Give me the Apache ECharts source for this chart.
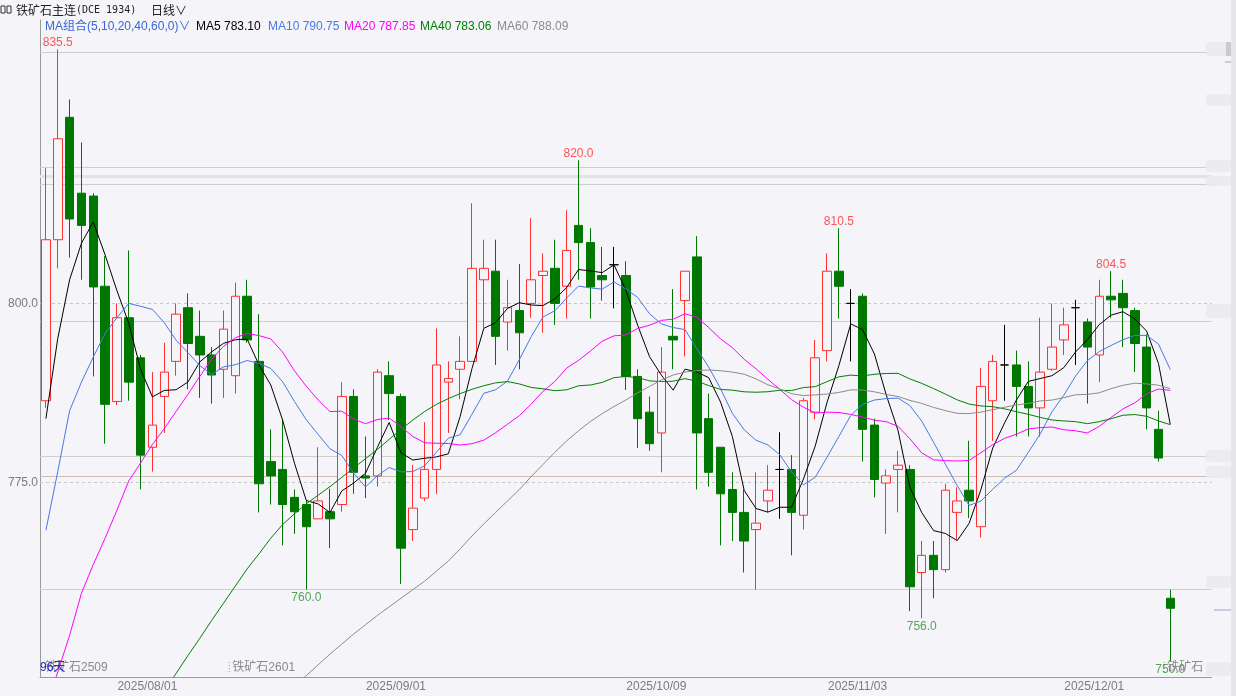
<!DOCTYPE html>
<html><head><meta charset="utf-8">
<script src="https://cdn.jsdelivr.net/npm/echarts@6/dist/echarts.min.js"></script>
<style>html,body{margin:0;padding:0;background:#f4f4f9;}#c{width:1236px;height:696px;}</style>
</head><body><div id="c"></div>
<script>
// ---------------- DATA ----------------
const dates = [
'2025/07/21','2025/07/22','2025/07/23','2025/07/24','2025/07/25','2025/07/28','2025/07/29','2025/07/30','2025/07/31',
'2025/08/01','2025/08/04','2025/08/05','2025/08/06','2025/08/07','2025/08/08','2025/08/11','2025/08/12','2025/08/13','2025/08/14','2025/08/15',
'2025/08/18','2025/08/19','2025/08/20','2025/08/21','2025/08/22','2025/08/25','2025/08/26','2025/08/27','2025/08/28','2025/08/29',
'2025/09/01','2025/09/02','2025/09/03','2025/09/04','2025/09/05','2025/09/08','2025/09/09','2025/09/10','2025/09/11','2025/09/12',
'2025/09/15','2025/09/16','2025/09/17','2025/09/18','2025/09/19','2025/09/22','2025/09/23','2025/09/24','2025/09/25','2025/09/26',
'2025/09/29','2025/09/30',
'2025/10/09','2025/10/10','2025/10/13','2025/10/14','2025/10/15','2025/10/16','2025/10/17','2025/10/20','2025/10/21','2025/10/22',
'2025/10/23','2025/10/24','2025/10/27','2025/10/28','2025/10/29','2025/10/30','2025/10/31',
'2025/11/03','2025/11/04','2025/11/05','2025/11/06','2025/11/07','2025/11/10','2025/11/11','2025/11/12','2025/11/13','2025/11/14',
'2025/11/17','2025/11/18','2025/11/19','2025/11/20','2025/11/21','2025/11/24','2025/11/25','2025/11/26','2025/11/27','2025/11/28',
'2025/12/01','2025/12/02','2025/12/03','2025/12/04','2025/12/05','2025/12/08','2025/12/09'];

const opens = [786.4,808.9,826.0,815.4,815.0,802.4,786.3,798.0,792.4,779.9,
787.0,791.9,799.4,795.4,792.8,790.8,789.9,801.0,791.9,777.9,
776.8,772.9,771.9,769.9,770.9,771.9,787.0,775.9,775.9,789.9,
787.0,768.4,772.8,776.8,789.0,790.8,791.9,803.3,804.5,797.4,
799.0,800.0,803.9,804.9,802.4,810.9,808.5,803.9,805.4,803.9,
789.8,784.8,781.9,795.4,800.4,806.5,783.9,779.9,774.0,770.8,
768.4,772.4,776.8,776.8,770.4,784.8,793.4,804.5,800.0,801.0,
783.0,774.9,776.8,776.8,762.4,764.8,762.8,770.8,773.9,768.8,
786.4,791.4,791.4,788.4,785.4,790.8,794.9,799.4,797.4,792.8,
801.0,801.4,799.0,793.9,782.4,758.8];
const closes = [808.9,823.0,811.8,810.9,802.3,785.9,798.0,789.0,778.8,783.0,
790.4,798.5,794.4,792.8,790.0,796.4,801.0,794.9,774.8,775.9,
771.9,770.9,768.8,772.4,769.9,787.0,776.4,775.6,790.4,787.4,
765.8,771.4,776.8,791.4,789.5,791.9,804.9,804.9,795.4,799.4,
795.9,803.3,804.5,800.0,807.4,808.5,802.3,803.3,805.4,789.8,
783.9,780.4,790.4,794.9,804.5,781.9,776.4,773.4,770.8,766.8,
769.3,773.9,776.8,770.8,786.4,792.4,804.5,802.4,800.0,782.4,
775.4,775.9,777.4,760.4,764.8,762.8,773.9,772.4,772.4,788.4,
791.9,791.4,788.4,785.4,790.4,793.9,797.0,799.4,793.9,801.0,
800.5,799.4,794.4,785.4,778.4,757.4];
const lows = [785.4,804.9,806.4,803.3,789.8,780.4,785.8,786.4,774.0,776.5,
781.9,789.9,788.0,786.8,786.0,786.8,787.4,794.5,770.8,771.9,
766.2,767.8,760.0,769.9,765.8,770.9,773.4,772.8,774.4,783.7,
760.8,766.8,772.4,773.4,781.9,786.6,791.9,796.6,791.4,793.4,
790.8,798.0,795.9,797.0,797.9,803.3,797.9,800.4,799.3,787.9,
779.8,779.4,776.4,790.8,792.6,774.0,774.4,766.2,766.8,762.4,
760.0,770.8,769.9,764.8,768.4,783.8,791.9,797.9,791.9,777.9,
772.9,767.8,770.8,757.0,756.0,758.8,762.4,767.0,770.0,767.3,
780.8,786.4,781.4,781.4,781.4,790.6,792.8,791.4,786.0,789.0,
798.0,793.9,790.4,782.4,777.9,750.0];
const highs = [818.9,835.5,828.5,822.5,815.4,806.6,800.0,807.4,792.8,790.4,
794.5,800.0,801.4,799.0,793.9,799.0,802.9,803.3,798.5,782.4,
783.7,774.0,772.5,779.9,774.1,789.0,788.0,781.4,790.8,791.9,
787.4,777.4,783.4,796.5,791.9,795.4,814.0,808.9,808.9,803.3,
805.5,811.9,807.0,808.9,813.0,820.0,810.5,807.9,807.9,805.9,
790.8,787.0,793.9,802.0,804.5,809.4,787.4,779.9,776.4,774.0,
776.4,777.4,782.0,778.8,786.8,794.9,807.0,810.5,802.0,801.4,
783.9,776.8,779.4,777.4,766.8,766.8,774.8,774.3,780.8,791.0,
792.8,797.0,793.4,791.9,798.0,800.0,799.4,800.5,797.9,803.3,
804.5,803.3,799.4,795.7,785.0,760.0];

const ma5 = [783.9,795.1,803.3,808.4,811.38,806.78,801.78,797.22,790.80,786.94,
787.84,787.94,789.02,791.82,793.22,794.42,794.92,795.02,791.42,788.60,
783.70,777.68,772.46,771.98,770.78,773.80,774.90,776.26,779.86,783.36,
779.12,778.12,778.36,778.56,778.98,784.20,790.90,796.52,797.32,799.30,
800.10,799.78,799.70,800.62,802.22,804.74,804.54,804.30,805.38,801.86,
796.94,792.56,789.98,787.88,790.82,790.42,789.62,786.22,781.40,773.86,
771.34,770.84,771.52,771.52,775.44,780.06,786.18,791.30,797.14,796.34,
792.94,787.22,782.22,774.30,770.78,768.26,767.86,766.86,769.26,773.98,
779.80,783.30,786.50,789.10,789.50,789.90,791.02,793.22,794.92,797.04,
798.36,798.84,797.84,796.14,791.62,783.10];
const ma10 = [768.3,776.5,785.0,789.0,792.5,795.8,798.0,800.0,799.6,799.16,
797.31,794.86,793.12,791.31,790.08,791.13,791.43,792.02,791.62,790.91,
789.06,786.30,783.74,781.70,779.69,778.75,776.29,774.36,775.92,777.07,
776.46,776.51,777.31,779.21,781.17,781.66,784.51,787.44,787.94,789.14,
792.15,795.34,798.11,798.97,800.76,802.42,802.16,802.00,803.00,802.04,
800.84,798.55,797.14,796.63,796.34,793.68,791.09,788.10,784.64,782.34,
780.88,780.23,778.87,776.46,774.65,775.70,778.51,781.41,784.33,785.89,
786.50,786.70,786.76,785.72,783.56,780.60,777.54,774.54,771.78,772.38,
774.03,775.58,776.68,779.18,781.74,784.85,787.16,789.86,792.01,793.27,
794.13,794.93,795.53,795.53,794.33,790.75];
const ma20 = [743.5,748.5,753.6,759.5,763.5,767.2,771.1,775.2,777.7,780.3,
782.5,784.9,787.3,789.8,792.2,794.0,795.2,795.8,795.5,795.04,
793.19,790.58,788.43,786.51,784.89,784.94,783.86,783.19,783.77,783.99,
782.76,781.41,780.53,780.46,780.43,780.21,780.40,780.90,781.93,783.11,
784.31,785.93,787.71,789.09,790.97,792.04,793.34,794.72,795.47,795.59,
796.50,796.95,797.63,797.80,798.55,798.05,796.63,795.05,793.82,792.19,
790.86,789.39,788.01,786.55,785.50,784.69,784.80,784.76,784.49,784.12,
783.69,783.47,782.82,781.09,779.11,778.15,778.03,777.98,778.06,779.14,
780.27,781.14,781.72,782.45,782.65,782.73,782.35,782.20,781.90,782.83,
784.08,785.26,786.11,787.36,788.04,787.85];
const ma40 = [null,null,null,null,null,null,null,null,null,null,
745.8,748.3,750.8,753.2,755.7,758.1,760.5,762.9,765.0,767.2,
769.1,770.6,772.0,773.2,774.4,775.7,777.0,778.3,779.6,781.0,
782.4,783.7,784.9,785.9,786.7,787.4,788.0,788.5,788.9,789.08,
788.75,788.26,788.07,787.80,787.93,788.49,788.60,788.96,789.62,789.79,
789.63,789.18,789.08,789.13,789.49,789.13,788.52,787.98,787.88,787.65,
787.59,787.66,787.86,787.82,788.24,788.37,789.07,789.74,789.98,789.86,
790.10,790.21,790.23,789.45,788.83,788.10,787.33,786.52,785.94,785.67,
785.57,785.27,784.87,784.50,784.08,783.71,783.58,783.48,783.20,783.48,
783.89,784.37,784.47,784.23,783.58,783.06];
const ma60 = [null,null,null,null,null,null,null,null,null,null,
null,null,null,null,null,null,null,null,null,null,
null,746.6,748.0,749.5,751.0,752.4,753.8,755.1,756.4,757.6,
758.8,760.0,761.2,762.6,764.0,765.7,767.5,769.2,770.8,772.4,
774.0,775.8,777.5,779.2,780.8,782.2,783.5,784.6,785.6,786.5,
787.5,788.4,789.3,790.0,790.4,790.6,790.7,790.6,790.4,790.11,
789.45,788.63,788.05,787.38,787.12,787.22,787.33,787.56,787.91,787.90,
787.65,787.28,786.99,786.45,786.03,785.47,785.02,784.64,784.60,784.81,
785.15,785.49,785.81,786.03,786.37,786.49,786.83,787.23,787.29,787.51,
788.09,788.56,788.85,788.75,788.57,788.09];

const maNames = ['MA5','MA10','MA20','MA40','MA60'];
const xLabelDates = ['2025/08/01','2025/09/01','2025/10/09','2025/11/03','2025/12/01'];
const yLabelValues = [775, 800];
const hiLabelIdx = [1, 45, 67, 90];
const loLabelIdx = [22, 74, 95];
const solidLevels = [835.1, 819.0, 817.7, 816.6, 797.5, 778.6, 775.9, 760.1];
const dashedLevels = [800, 775];
const contractIdx = [0, 16, 95];
const contractNames = ['铁矿石2509', '铁矿石2601', '铁矿石'];
const dayCountText = '96天';
const titleText = ['铁矿石主连', '(DCE 1934)', '日线'];
const maGroupText = 'MA组合(5,10,20,40,60,0)';

// ---------------- STYLE ----------------
const BG = '#f4f4f9';
const UP = '#ff3030', DOWN = '#007700';
const maColors = ['#000000', '#4a78e6', '#ff00ff', '#008000', '#8c8c8c'];
const FONT = '"Liberation Sans","Noto Sans CJK SC",sans-serif';

const chart = echarts.init(document.getElementById('c'), null, {renderer: 'canvas'});
const catData = dates.concat(['', '', '']);
const candleData = dates.map((d, i) => [opens[i], closes[i], lows[i], highs[i]]);
const maData = [ma5, ma10, ma20, ma40, ma60];

const lineStyles = solidLevels.map(v => {
  let ls = {color: '#cfcfc9', width: 1, type: 'solid'};
  if (Math.abs(v - 817.7) < 0.01) ls = {color: '#e3e3e3', width: 3, type: 'solid'};
  if (Math.abs(v - 775.9) < 0.01) ls = {color: '#cdbdb5', width: 1, type: 'solid'};
  return {yAxis: v, lineStyle: ls};
}).concat(dashedLevels.map(v => ({yAxis: v, lineStyle: {color: '#c6c6c6', width: 1, type: [3, 3]}})));

const option = {
  backgroundColor: BG,
  animation: false,
  grid: {left: 40, top: 20, width: 1171.7, height: 657, containLabel: false},
  xAxis: {
    type: 'category', data: catData, boundaryGap: true,
    axisLine: {show: true, lineStyle: {color: '#9a9a9a'}},
    axisTick: {show: false},
    axisLabel: {
      interval: (idx, val) => xLabelDates.includes(val),
      color: '#7c7c7c', fontSize: 12, fontFamily: FONT, margin: 4, padding: [0, 10, 0, 0]
    },
    splitLine: {show: false}
  },
  yAxis: {
    type: 'value', min: 747.8, max: 839.6, scale: true,
    axisLine: {show: true, lineStyle: {color: '#9a9a9a'}},
    axisTick: {show: false},
    axisLabel: {customValues: yLabelValues, formatter: v => v.toFixed(1), color: '#7c7c7c', fontSize: 12, fontFamily: FONT, margin: 2},
    splitLine: {show: false}
  },
  series: [
    {
      type: 'candlestick', name: 'K', data: candleData, barWidth: 9, z: 3,
      itemStyle: {color: BG, color0: DOWN, borderColor: UP, borderColor0: DOWN, borderColorDoji: '#000000', borderWidth: 1},
      markLine: {silent: true, symbol: 'none', z: 1, label: {show: false}, animation: false, data: lineStyles}
    }
  ].concat(maData.map((d, k) => ({
    type: 'line', name: maNames[k], data: d, symbol: 'none', showSymbol: false, z: 4,
    lineStyle: {color: maColors[k], width: 1}, connectNulls: false, silent: true
  }))).concat([
    {
      type: 'scatter', name: 'hi', symbolSize: 0, z: 6, silent: true,
      data: hiLabelIdx.map(i => [i, highs[i]]),
      label: {show: true, position: 'top', distance: 1, color: '#ff2a2a', fontSize: 12, fontFamily: FONT, formatter: p => p.value[1].toFixed(1)}
    },
    {
      type: 'scatter', name: 'lo', symbolSize: 0, z: 6, silent: true,
      data: loLabelIdx.map(i => [i, lows[i]]),
      label: {show: true, position: 'bottom', distance: 2, color: '#2f8f2f', fontSize: 12, fontFamily: FONT, formatter: p => p.value[1].toFixed(1)}
    }
  ])
};
chart.setOption(option);

// ---------------- annotations (text) ----------------
const px = i => chart.convertToPixel({xAxisIndex: 0}, i);
const band = px(1) - px(0);
const g = [];
// title row
g.push({type: 'rect', shape: {x: 1, y: 6, width: 4, height: 7}, style: {fill: 'none', stroke: '#333', lineWidth: 1}});
g.push({type: 'rect', shape: {x: 7, y: 6, width: 4, height: 7}, style: {fill: 'none', stroke: '#333', lineWidth: 1}});
g.push({type: 'text', x: 16, y: 10, style: {text: titleText[0], fill: '#222', font: '12px "Noto Sans CJK SC"', verticalAlign: 'middle'}});
g.push({type: 'text', x: 76, y: 10, style: {text: titleText[1], fill: '#222', font: '10px "DejaVu Sans Mono"', verticalAlign: 'middle'}});
g.push({type: 'text', x: 151, y: 10, style: {text: titleText[2] + '∨', fill: '#222', font: '12px "Noto Sans CJK SC"', verticalAlign: 'middle'}});
// legend row
const legX = [196, 268, 344, 420, 497];
g.push({type: 'text', x: 45, y: 27, style: {text: maGroupText + '∨', fill: '#3a66d8', font: '12px ' + FONT, verticalAlign: 'middle'}});
maNames.forEach((n, k) => {
  const last = maData[k][maData[k].length - 1];
  g.push({type: 'text', x: legX[k], y: 27, style: {text: n + ' ' + last.toFixed(2), fill: maColors[k], font: '12px ' + FONT, verticalAlign: 'middle'}});
});
// contract labels at the bottom
contractIdx.forEach((ci, k) => {
  const bx = px(ci) - band / 2;
  if (ci > 0) g.push({type: 'line', shape: {x1: bx, y1: 662, x2: bx, y2: 674}, style: {stroke: '#999', lineWidth: 1, lineDash: [1, 2]}});
  g.push({type: 'text', x: bx + (ci > 0 ? 3 : 5), y: 668, z: 50, style: {text: contractNames[k], fill: '#8a8a8a', font: '12px ' + FONT, verticalAlign: 'middle'}});
});
g.push({type: 'text', x: 40, y: 668, z: 60, style: {text: dayCountText, fill: '#2626c8', font: '12px ' + FONT, verticalAlign: 'middle'}});
// obscured right-hand price strip (soft blurred patches)
const patches = [[42, 14], [94, 12], [160, 12], [176, 10], [304, 14], [450, 12], [466, 12], [576, 12], [662, 14]];
patches.forEach(p => g.push({type: 'rect', z: 80, shape: {x: 1206, y: p[0], width: 25, height: p[1], r: 3}, style: {fill: '#eaeaef', opacity: 0.85}}));
g.push({type: 'rect', z: 81, shape: {x: 1226, y: 42, width: 6, height: 14}, style: {fill: '#cbcbcf'}});
g.push({type: 'rect', z: 81, shape: {x: 1225, y: 61, width: 11, height: 2}, style: {fill: '#cacae6'}});
g.push({type: 'rect', z: 81, shape: {x: 1214, y: 609, width: 22, height: 2}, style: {fill: '#cacae6'}});
g.push({type: 'rect', z: 82, shape: {x: 1231, y: 0, width: 5, height: 696}, style: {fill: '#e6e6eb'}});
chart.setOption({graphic: {elements: g}});
</script></body></html>
